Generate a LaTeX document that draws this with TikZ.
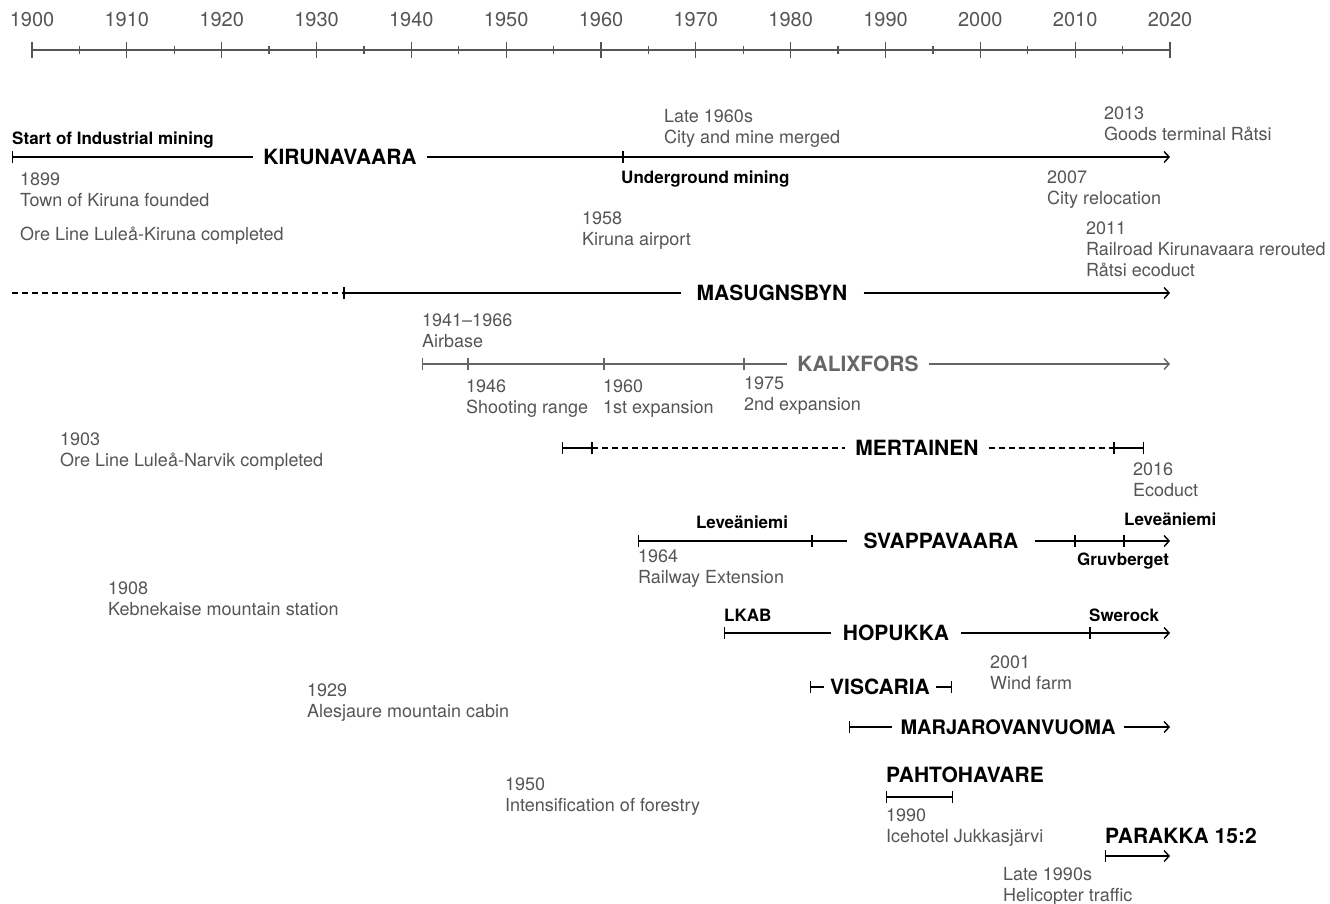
\documentclass[tikz,border=0pt]{standalone}
\usepackage{fontspec}
\setmainfont{TeX Gyre Heros}
\usetikzlibrary{arrows.meta}
\definecolor{notegray}{HTML}{555555}
\definecolor{kalixgray}{HTML}{666666}
\begin{document}
\begin{tikzpicture}[x=1pt,y=-1pt,
		track/.style={line width=1.4pt},
		axisline/.style={line width=1.3pt,draw=notegray},
		site/.style={font=\fontsize{21}{24}\selectfont\bfseries,inner xsep=10pt,inner ysep=0pt},
		tag/.style={font=\fontsize{17}{20}\selectfont\bfseries,inner sep=0pt},
		note/.style={font=\fontsize{18}{21}\selectfont,text=notegray,align=left,anchor=north west,inner sep=0pt},
		yearlabel/.style={font=\fontsize{20}{24}\selectfont,text=notegray},
		barstart/.style={{Bar[width=12pt]}-},
		barend/.style={-{Bar[width=12pt]}},
		barboth/.style={{Bar[width=12pt]}-{Bar[width=12pt]}},
		arrowend/.style={-{Straight Barb[length=5pt,width=11pt]}},
		barto/.style={{Bar[width=12pt]}-{Straight Barb[length=5pt,width=11pt]}}]
	\useasboundingbox (0,0) rectangle (1330,903);
	% time axis
	\coordinate (axS) at (32,50);
	\coordinate (axE) at (1170,50);
	\draw[axisline] (axS) -- (axE);
	\foreach \y in {1900,1910,...,2020}{
		\pgfmathsetmacro\xx{32+(\y-1900)*9.4833}
		\draw[axisline] (\xx,42) -- (\xx,58);
		\node[yearlabel] (yr\y) at (\xx,20) {\y};
	}
	\foreach \y in {1905,1915,...,2015}{
		\pgfmathsetmacro\xx{32+(\y-1900)*9.4833}
		\draw[axisline] (\xx,46) -- (\xx,54);
	}
	% Kirunavaara
	\coordinate (kiruS) at (12,157);
	\coordinate (kiruT) at (623,157);
	\coordinate (kiruE) at (1170,157);
	\node[site] (kiru) at (340,157) {KIRUNAVAARA};
	\draw[track,barstart] (kiruS) -- (kiru);
	\draw[track,arrowend] (kiru) -- (kiruE);
	\draw[track] (kiruT) +(0,-6) -- +(0,6);
	\node[tag,anchor=west] (startmining) at (12,140) {Start of Industrial mining};
	\node[tag,anchor=west] (underground) at (621,179) {Underground mining};
	% Masugnsbyn
	\coordinate (masuS) at (12,293);
	\coordinate (masuT) at (344,293);
	\coordinate (masuE) at (1170,293);
	\node[site,inner xsep=16pt] (masu) at (772,293) {MASUGNSBYN};
	\draw[track,dash pattern=on 6pt off 4pt] (masuS) -- (masuT);
	\draw[track] (masuT) -- (masu);
	\draw[track,arrowend] (masu) -- (masuE);
	\draw[track] (masuT) +(0,-6) -- +(0,6);
	% Kalixfors
	\coordinate (kaliS) at (422,364);
	\coordinate (kaliE) at (1170,364);
	\node[site,text=kalixgray] (kali) at (858,364) {KALIXFORS};
	\draw[track,draw=kalixgray,barstart] (kaliS) -- (kali);
	\draw[track,draw=kalixgray,arrowend] (kali) -- (kaliE);
	\foreach \t in {468,604,744}
		\draw[track,draw=kalixgray] (\t,358) -- (\t,370);
	% Mertainen
	\coordinate (mertS) at (562,448);
	\coordinate (mertA) at (592,448);
	\coordinate (mertB) at (1114,448);
	\coordinate (mertE) at (1144,448);
	\node[site] (mert) at (917,448) {MERTAINEN};
	\draw[track,barstart] (mertS) -- (mertA);
	\draw[track,dash pattern=on 6pt off 4pt] (mertA) -- (mert);
	\draw[track,dash pattern=on 6pt off 4pt] (mert) -- (mertB);
	\draw[track,barend] (mertB) -- (mertE);
	\draw[track] (mertA) +(0,-6) -- +(0,6);
	\draw[track] (mertB) +(0,-6) -- +(0,6);
	% Svappavaara
	\coordinate (svapS) at (638,541);
	\coordinate (svapE) at (1170,541);
	\node[site,inner xsep=16pt] (svap) at (941,541) {SVAPPAVAARA};
	\draw[track,barstart] (svapS) -- (svap);
	\draw[track,arrowend] (svap) -- (svapE);
	\foreach \t in {812,1075,1124}
		\draw[track] (\t,535) -- (\t,547);
	\node[tag] (leve1) at (742,522) {Leveäniemi};
	\node[tag,anchor=west] (leve2) at (1124,519) {Leveäniemi};
	\node[tag,anchor=west] (gruv) at (1077,561) {Gruvberget};
	% Hopukka
	\coordinate (hopuS) at (724,633);
	\coordinate (hopuT) at (1090,633);
	\coordinate (hopuE) at (1170,633);
	\node[site,inner xsep=12pt] (hopu) at (896,633) {HOPUKKA};
	\draw[track,barstart] (hopuS) -- (hopu);
	\draw[track,arrowend] (hopu) -- (hopuE);
	\draw[track] (hopuT) +(0,-6) -- +(0,6);
	\node[tag,anchor=west] (lkab) at (724,615) {LKAB};
	\node[tag,anchor=west] (swerock) at (1089,615) {Swerock};
	% Viscaria
	\coordinate (viscS) at (810,687);
	\coordinate (viscE) at (952,687);
	\node[site,inner xsep=6pt] (visc) at (880,687) {VISCARIA};
	\draw[track,barstart] (viscS) -- (visc);
	\draw[track,barend] (visc) -- (viscE);
	% Marjarovanvuoma
	\coordinate (marjS) at (849,727);
	\coordinate (marjE) at (1170,727);
	\node[site,font=\fontsize{20}{24}\selectfont\bfseries,inner xsep=8pt] (marj) at (1008,727) {MARJAROVANVUOMA};
	\draw[track,barstart] (marjS) -- (marj);
	\draw[track,arrowend] (marj) -- (marjE);
	% Pahtohavare
	\node[site,anchor=west,inner sep=0pt] (paht) at (886,775) {PAHTOHAVARE};
	\coordinate (pahtS) at (886,797);
	\coordinate (pahtE) at (953,797);
	\draw[track,barboth] (pahtS) -- (pahtE);
	% Parakka 15:2
	\node[site,anchor=west,inner sep=0pt] (para) at (1105,836) {PARAKKA 15:2};
	\coordinate (paraS) at (1105,856);
	\coordinate (paraE) at (1170,856);
	\draw[track,barto] (paraS) -- (paraE);
	% events
	\node[note] (n1899) at (20,173) {1899\\Town of Kiruna founded};
	\node[note] (oreKiruna) at (20,227) {Ore Line Luleå-Kiruna completed};
	\node[note] (n1958) at (582,212) {1958\\Kiruna airport};
	\node[note] (late1960s) at (664,109) {Late 1960s\\City and mine merged};
	\node[note] (n2013) at (1104,107) {2013\\Goods terminal Råtsi};
	\node[note] (n2007) at (1047,171) {2007\\City relocation};
	\node[note] (n2011) at (1086,222) {2011\\Railroad Kirunavaara rerouted\\Råtsi ecoduct};
	\node[note] (n1941) at (422,314) {1941–1966\\Airbase};
	\node[note] (n1946) at (466,380) {1946\\Shooting range};
	\node[note] (n1960) at (603,380) {1960\\1st expansion};
	\node[note] (n1975) at (744,377) {1975\\2nd expansion};
	\node[note] (n1903) at (60,433) {1903\\Ore Line Luleå-Narvik completed};
	\node[note] (n2016) at (1133,463) {2016\\Ecoduct};
	\node[note] (n1964) at (638,550) {1964\\Railway Extension};
	\node[note] (n1908) at (108,582) {1908\\Kebnekaise mountain station};
	\node[note] (n2001) at (990,656) {2001\\Wind farm};
	\node[note] (n1929) at (307,684) {1929\\Alesjaure mountain cabin};
	\node[note] (n1950) at (505,778) {1950\\Intensification of forestry};
	\node[note] (n1990) at (886,809) {1990\\Icehotel Jukkasjärvi};
	\node[note] (late1990s) at (1003,867) {Late 1990s\\Helicopter traffic};
\end{tikzpicture}
\end{document}
